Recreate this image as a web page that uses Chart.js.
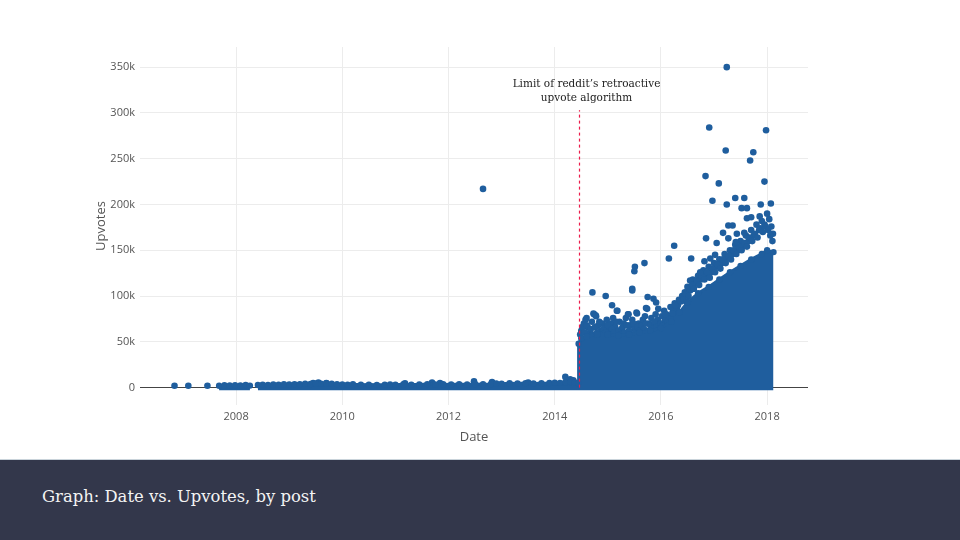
<!DOCTYPE html>
<html lang="en">
<head>
  <meta charset="UTF-8" />
  <title>Date vs. Upvotes</title>
  <script src="https://cdn.jsdelivr.net/npm/chart.js"></script>
  <style>
    html, body { margin: 0; padding: 0; background: #fff; }
    body { width: 960px; height: 540px; position: relative; overflow: hidden; }
    .chart-box { position: absolute; left: 0; top: 0; width: 960px; height: 459px; }
    .footer {
      position: absolute; left: 0; top: 459px; width: 960px; height: 81px;
      background: #33374b; border-top: 1px solid #c9d3da; box-sizing: border-box;
    }
    .footer p {
      margin: 0; position: absolute; left: 42px; top: 27px;
      font-family: "DejaVu Serif", serif; font-size: 16.4px; color: #f4f4f4;
    }
  </style>
</head>
<body>
  <div class="chart-box"><canvas id="upvoteChart"></canvas></div>
  <div class="footer"><p>Graph: Date vs. Upvotes, by post</p></div>

  <script>
    // ticks
    const tickYears = [2008, 2010, 2012, 2014, 2016, 2018];
    const upvoteTicks = [0, 50000, 100000, 150000, 200000, 250000, 300000, 350000];
    const algorithmLimitYear = 2014.45;
    const algorithmLimitTop = 303000;

    // upper edge of the dense mass of posts (null = gap in posting)
    const denseYears = [2007.68, 2007.78, 2007.88, 2007.98, 2008.08, 2008.18, 2008.26, 2008.33,
      2008.41, 2008.5, 2008.6, 2008.7, 2008.8, 2008.9, 2009.0, 2009.1, 2009.2, 2009.3, 2009.4,
      2009.5, 2009.6, 2009.7, 2009.8, 2009.9, 2010.0, 2010.1, 2010.2, 2010.35, 2010.5, 2010.65,
      2010.8, 2010.9, 2011.0, 2011.15, 2011.3, 2011.45, 2011.6, 2011.75, 2011.9, 2012.05,
      2012.2, 2012.35, 2012.5, 2012.65, 2012.8, 2012.9, 2013.0, 2013.15, 2013.3, 2013.45,
      2013.6, 2013.75, 2013.9, 2014.0, 2014.1, 2014.2, 2014.3, 2014.38, 2014.44,
      2014.45, 2014.5, 2014.6, 2014.8, 2015.0, 2015.2, 2015.4, 2015.6, 2015.8, 2016.0, 2016.2,
      2016.35, 2016.5, 2016.7, 2016.9, 2017.1, 2017.3, 2017.5, 2017.7, 2017.9, 2018.0, 2018.12];
    const denseUpvotes = [2000, 2600, 2300, 2700, 2400, 2800, 2200, null,
      2800, 3200, 3000, 3500, 3200, 3600, 3400, 3800, 3600, 4200, 4000,
      4600, 4300, 4800, 4200, 3800, 3500, 3300, 3600, 3100, 3300, 3000,
      3200, 3400, 3100, 3600, 3300, 3500, 3800, 3400, 3700, 3500,
      3800, 3400, 3900, 3600, 4000, 4400, 4200, 4800, 4500, 4900,
      4400, 4700, 5000, 5400, 5200, 5800, 6200, 5600, 5000,
      48000, 54000, 56000, 58000, 58000, 57000, 58000, 60000, 62000, 65000, 72000,
      82000, 93000, 103000, 110000, 118000, 126000, 133000, 140000, 146000, 150000, 148000];

    // individual posts standing out from the mass
    const postYears = [
      2006.84, 2007.10, 2007.46, 2009.45, 2009.55, 2009.70, 2011.18, 2011.69, 2011.84,
      2012.48, 2012.82, 2013.50, 2014.20, 2014.29, 2014.35,
      2012.65,
      2014.50, 2014.55, 2014.58, 2014.62, 2014.66, 2014.70, 2014.74, 2014.78, 2014.82, 2014.86,
      2014.90, 2014.94, 2014.98, 2015.02, 2015.06, 2015.10, 2015.14, 2015.18, 2015.22, 2015.26,
      2015.30, 2015.34, 2015.38, 2015.42, 2015.46, 2015.50, 2015.54, 2015.58, 2015.62, 2015.66,
      2015.70, 2015.74, 2015.78, 2015.82, 2015.86, 2015.90, 2015.94, 2015.98, 2016.02, 2016.06,
      2016.10, 2016.14, 2016.18, 2016.22, 2016.26, 2016.30, 2016.34, 2016.40, 2016.45, 2016.50,
      2016.55, 2016.60, 2016.65, 2016.70, 2016.75, 2016.80, 2016.85, 2016.90, 2016.95, 2017.00,
      2017.05, 2017.10, 2017.15, 2017.20, 2017.25, 2017.30, 2017.35, 2017.40, 2017.45, 2017.50,
      2017.55, 2017.60, 2017.65, 2017.70, 2017.75, 2017.80, 2017.85, 2017.90, 2017.95, 2018.00,
      2018.04, 2018.08, 2018.11,
      2014.48, 2014.52, 2014.56, 2014.60, 2014.64, 2014.68, 2014.72, 2014.76, 2014.80, 2014.84,
      2014.88, 2014.92, 2014.96, 2015.00, 2015.04, 2015.08, 2015.12, 2015.16, 2015.20, 2015.24,
      2015.28, 2015.32, 2015.36, 2015.40, 2015.44, 2015.48, 2015.52, 2015.56, 2015.60, 2015.64,
      2015.68, 2015.72, 2015.76, 2015.80, 2015.84, 2015.88, 2015.92, 2015.96, 2016.00, 2016.04,
      2016.08, 2016.12, 2016.16, 2016.20, 2016.24, 2016.28, 2016.32, 2016.38, 2016.42, 2016.47,
      2016.52, 2016.57, 2016.62, 2016.67, 2016.72, 2016.77, 2016.82, 2016.87, 2016.92, 2016.97,
      2017.02, 2017.07, 2017.12, 2017.17, 2017.22, 2017.27, 2017.32, 2017.37, 2017.42, 2017.47,
      2017.52, 2017.57, 2017.62, 2017.67, 2017.72, 2017.77, 2017.82, 2017.87, 2017.92, 2017.97,
      2018.02, 2018.06, 2018.10,
      2017.24, 2016.91, 2017.98, 2017.22, 2017.74, 2017.68, 2016.84, 2017.09, 2017.95, 2016.97,
      2017.24, 2017.40, 2017.57, 2017.52, 2017.62, 2017.88, 2018.07, 2017.62, 2017.70, 2017.86,
      2017.27, 2017.35, 2017.17, 2017.43, 2017.57, 2016.85, 2017.27, 2017.05, 2017.41, 2016.25,
      2016.15, 2016.57, 2016.82, 2016.93, 2017.02, 2015.69, 2015.51, 2015.50, 2016.74, 2016.55,
      2016.59, 2016.62, 2015.46, 2015.46, 2014.71, 2014.96, 2015.75, 2015.86, 2015.91, 2016.43,
      2016.48, 2015.08, 2015.72, 2015.95, 2016.27, 2014.73, 2014.77, 2014.60, 2015.17, 2015.39,
      2015.55, 2016.08, 2016.22];
    const postUpvotes = [
      2000, 2000, 2000, 5000, 5500, 5000, 4700, 5500, 5000,
      7000, 6000, 5500, 11700, 9000, 8000,
      217000,
      62000, 70000, 74000, 66000, 60000, 72000, 80000, 78000, 68000, 62000,
      70000, 66000, 74000, 63000, 70000, 76000, 66000, 84000, 72000, 64000,
      70000, 76000, 80000, 68000, 74000, 64000, 82000, 70000, 66000, 74000,
      78000, 86000, 70000, 76000, 66000, 80000, 74000, 70000, 78000, 84000,
      80000, 76000, 88000, 82000, 92000, 86000, 96000, 100000, 104000, 110000,
      106000, 118000, 114000, 122000, 118000, 128000, 124000, 132000, 126000, 136000,
      132000, 140000, 136000, 146000, 142000, 150000, 146000, 156000, 150000, 160000,
      154000, 166000, 160000, 172000, 166000, 178000, 172000, 182000, 178000, 190000,
      184000, 176000, 168000,
      58000, 66000, 60000, 68000, 56000, 64000, 58000, 66000, 60000, 72000,
      58000, 64000, 60000, 68000, 58000, 64000, 60000, 72000, 62000, 58000,
      66000, 60000, 68000, 62000, 58000, 70000, 60000, 66000, 62000, 68000,
      64000, 70000, 62000, 68000, 64000, 72000, 66000, 62000, 70000, 68000,
      74000, 72000, 78000, 76000, 84000, 80000, 90000, 94000, 98000, 102000,
      100000, 110000, 108000, 116000, 112000, 122000, 118000, 126000, 120000, 130000,
      126000, 134000, 130000, 140000, 136000, 144000, 140000, 150000, 146000, 154000,
      150000, 158000, 154000, 164000, 160000, 168000, 164000, 174000, 170000, 176000,
      172000, 166000, 160000,
      350000, 284000, 281000, 259000, 257000, 248000, 231000, 223000, 225000, 204000,
      200000, 207000, 207000, 196000, 196000, 200000, 201000, 185000, 186000, 187000,
      177000, 177000, 169000, 168000, 169000, 163000, 163000, 158000, 159000, 155000,
      141000, 141000, 138000, 141000, 145000, 136000, 132000, 127000, 126000, 117000,
      112000, 108000, 108000, 106000, 104000, 100000, 99000, 97000, 93000, 96000,
      94000, 90000, 87000, 86000, 90000, 81000, 79000, 76000, 84000, 80000,
      81000, 80000, 81000];

    const dotColor = "#1f5e9e";

    const denseData = denseYears.map((x, i) => ({ x: x, y: denseUpvotes[i] }));
    const postData = postYears.map((x, i) => ({ x: x, y: postUpvotes[i] }));

    // dashed marker + note for the algorithm cut-off
    const limitNote = {
      id: "limitNote",
      afterDatasetsDraw(chart) {
        const { ctx, scales: { x, y } } = chart;
        const px = Math.round(x.getPixelForValue(algorithmLimitYear)) + 0.5;
        ctx.save();
        ctx.strokeStyle = "#ec1c4b";
        ctx.lineWidth = 1.2;
        ctx.setLineDash([3, 3]);
        ctx.beginPath();
        ctx.moveTo(px, y.getPixelForValue(0));
        ctx.lineTo(px, y.getPixelForValue(algorithmLimitTop));
        ctx.stroke();
        ctx.setLineDash([]);
        ctx.fillStyle = "#222";
        ctx.font = "10.5px 'DejaVu Serif'";
        ctx.textAlign = "center";
        ctx.textBaseline = "middle";
        const cx = px + 7;
        const top = y.getPixelForValue(algorithmLimitTop);
        ctx.fillText("Limit of reddit\u2019s retroactive", cx, top - 26);
        ctx.fillText("upvote algorithm", cx, top - 12);
        ctx.restore();
      }
    };

    const ctx = document.getElementById("upvoteChart").getContext("2d");
    new Chart(ctx, {
      type: "scatter",
      data: {
        datasets: [
          {
            type: "line",
            data: denseData,
            borderColor: dotColor,
            backgroundColor: dotColor,
            borderWidth: 3,
            pointRadius: 3.2,
            pointBackgroundColor: dotColor,
            pointBorderWidth: 0,
            tension: 0,
            spanGaps: false,
            fill: { value: -3000 }
          },
          {
            data: postData,
            backgroundColor: dotColor,
            borderWidth: 0,
            pointRadius: 3.3
          }
        ]
      },
      options: {
        responsive: true,
        maintainAspectRatio: false,
        animation: false,
        layout: { padding: { left: 60, top: 47, right: 152, bottom: 0 } },
        plugins: { legend: { display: false }, tooltip: { enabled: false } },
        scales: {
          x: {
            type: "linear",
            min: 2006.19,
            max: 2018.77,
            afterBuildTicks: axis => { axis.ticks = tickYears.map(v => ({ value: v })); },
            afterFit: axis => { axis.height = 54; },
            ticks: {
              callback: v => String(v),
              color: "#555",
              font: { family: "'Open Sans'", size: 11 },
              padding: 5,
              maxRotation: 0
            },
            grid: { color: "#ececec", drawTicks: false },
            border: { display: false },
            title: {
              display: true,
              text: "Date",
              color: "#555",
              font: { family: "'Open Sans'", size: 13 },
              padding: { top: 0, bottom: 14 }
            }
          },
          y: {
            min: -19000,
            max: 372000,
            afterBuildTicks: axis => { axis.ticks = upvoteTicks.map(v => ({ value: v })); },
            afterFit: axis => { axis.width = 80; },
            ticks: {
              callback: v => (v === 0 ? "0" : v / 1000 + "k"),
              color: "#555",
              font: { family: "'Open Sans'", size: 11 },
              padding: 5
            },
            grid: {
              color: c => (c.tick && c.tick.value === 0 ? "#444" : "#ececec"),
              drawTicks: false
            },
            border: { display: false },
            title: {
              display: true,
              text: "Upvotes",
              color: "#555",
              font: { family: "'Open Sans'", size: 13 },
              padding: { top: 33, bottom: 0 }
            }
          }
        }
      },
      plugins: [limitNote]
    });
  </script>
</body>
</html>
